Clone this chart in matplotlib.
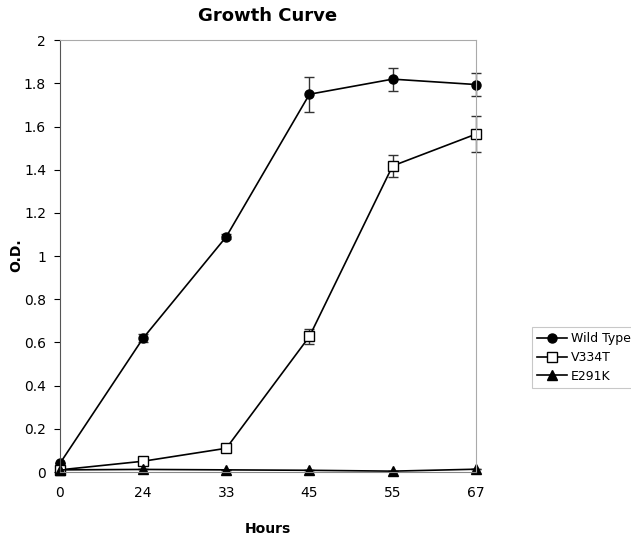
import matplotlib.pyplot as plt
import numpy as np

# hours are plotted as evenly spaced categories
hours = ['0', '24', '33', '45', '55', '67']

wild_type = [0.04, 0.62, 1.09, 1.75, 1.82, 1.795]
wild_type_err = [0.0, 0.02, 0.012, 0.08, 0.053, 0.053]

v334t = [0.01, 0.05, 0.11, 0.628, 1.418, 1.565]
v334t_err = [0.0, 0.0, 0.0, 0.035, 0.052, 0.082]

e291k = [0.01, 0.012, 0.01, 0.008, 0.004, 0.013]
e291k_err = [0.0, 0.0, 0.0, 0.0, 0.0, 0.0]

x = np.arange(len(hours))

fig = plt.figure(figsize=(6.31, 5.37), dpi=100)
ax = fig.add_axes([0.095, 0.121, 0.659, 0.804])

common = dict(color='black', linewidth=1.2, capsize=3.5, elinewidth=1,
              capthick=1, ecolor='#333333', markersize=6.5, clip_on=False)
wt = ax.errorbar(x, wild_type, yerr=wild_type_err, marker='o',
                 markerfacecolor='black', label='Wild Type', **common)
vt = ax.errorbar(x, v334t, yerr=v334t_err, marker='s',
                 markerfacecolor='white', markeredgecolor='black', label='V334T', **common)
ek = ax.errorbar(x, e291k, yerr=e291k_err, marker='^',
                 markerfacecolor='black', label='E291K', **common)

ax.set_xlim(0, len(hours) - 1)
ax.set_ylim(0, 2)
ax.set_xticks(x)
ax.set_xticklabels(hours)
ax.set_yticks(np.arange(0, 2.01, 0.2))
ax.set_yticklabels(['0', '0.2', '0.4', '0.6', '0.8', '1', '1.2', '1.4', '1.6', '1.8', '2'])

ax.spines['top'].set_color('#aaaaaa')
ax.spines['right'].set_color('#aaaaaa')
ax.spines['bottom'].set_color('#888888')
ax.spines['left'].set_color('#555555')
ax.tick_params(axis='y', direction='out', length=4, labelsize=10, pad=6)
ax.tick_params(axis='x', length=0, labelsize=10, pad=10)

ax.set_xlabel('Hours', fontsize=10, fontweight='bold', labelpad=16)
fig.text(0.026, 0.525, 'O.D.', rotation=90, ha='center', va='center',
         fontsize=10, fontweight='bold')
ax.set_title('Growth Curve', fontsize=13, fontweight='bold', pad=14)

# legend shows only line + marker, no error bars
handles = [wt.lines[0], vt.lines[0], ek.lines[0]]
labels = ['Wild Type', 'V334T', 'E291K']
leg = ax.legend(handles, labels, loc='center left', bbox_to_anchor=(1.12, 0.265),
                frameon=True, fancybox=False, edgecolor='#bbbbbb',
                fontsize=9, handlelength=2.4, handletextpad=0.3, labelspacing=0.45,
                borderpad=0.4)
leg.get_frame().set_linewidth(0.8)

fig.savefig('out.png', dpi=100)
